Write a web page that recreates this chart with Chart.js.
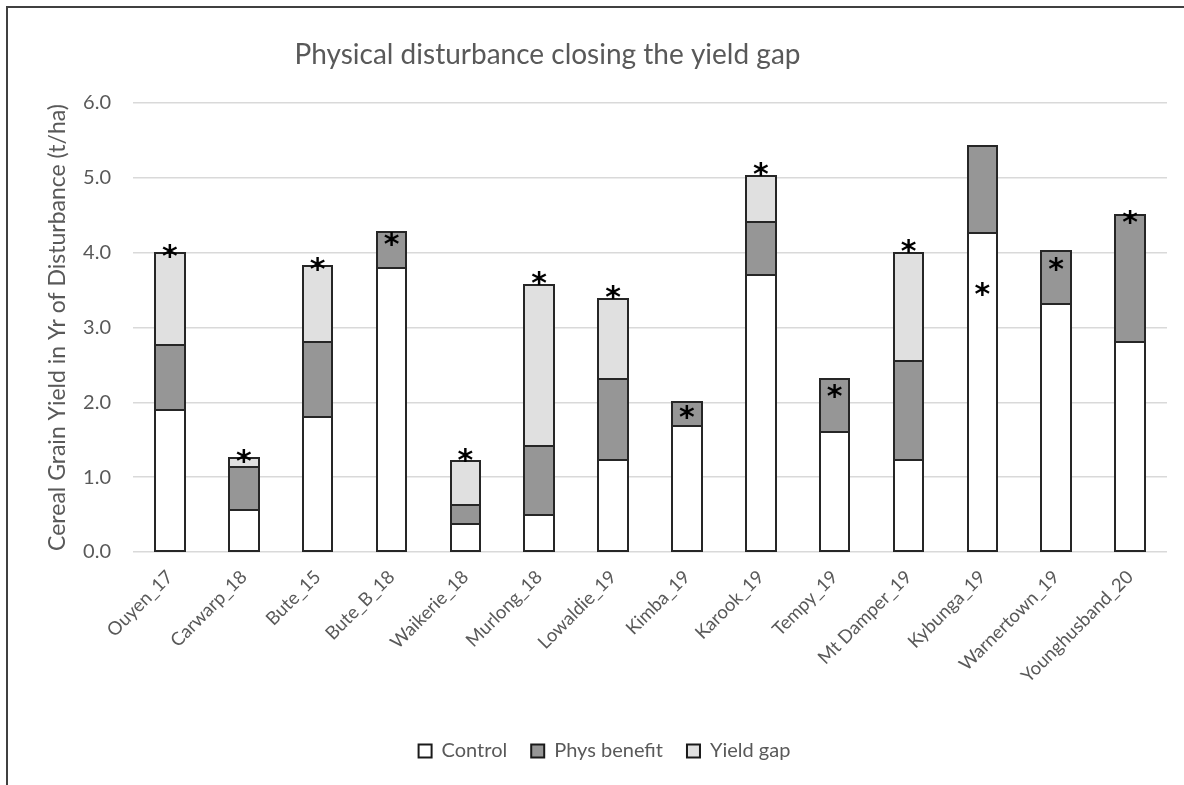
<!DOCTYPE html>
<html>
<head>
<meta charset="utf-8">
<script src="https://cdn.jsdelivr.net/npm/chart.js@4.4.1/dist/chart.umd.min.js"></script>
<style>
  html, body { margin: 0; padding: 0; background: #ffffff; }
  #wrap { position: relative; width: 1184px; height: 785px; }
</style>
</head>
<body>
<div id="wrap"><canvas id="chart" width="1184" height="785"></canvas></div>
<script>
// Trial sites
const categories = [
  'Ouyen_17', 'Carwarp_18', 'Bute_15', 'Bute_B_18', 'Waikerie_18', 'Murlong_18',
  'Lowaldie_19', 'Kimba_19', 'Karook_19', 'Tempy_19', 'Mt Damper_19', 'Kybunga_19',
  'Warnertown_19', 'Younghusband_20'
];

// Grain yield components (t/ha), stacked
const controlYield = [1.90, 0.56, 1.80, 3.80, 0.37, 0.50, 1.23, 1.69, 3.70, 1.61, 1.23, 4.26, 3.31, 2.80];
const physBenefit  = [0.87, 0.58, 1.00, 0.47, 0.26, 0.91, 1.08, 0.31, 0.71, 0.70, 1.32, 1.16, 0.71, 1.70];
const yieldGap     = [1.23, 0.12, 1.02, null, 0.58, 2.16, 1.07, null, 0.61, null, 1.45, null, null, null];

// Height (t/ha) at which each significance asterisk sits
const sigMarkY = [4.02, 1.27, 3.84, 4.17, 1.29, 3.66, 3.47, 1.86, 5.11, 2.14, 4.08, 3.51, 3.84, 4.47];

// Y axis tick values
const yTickValues = [0, 1, 2, 3, 4, 5, 6];

const TEXT = '#595959';
const FONT = 'Lato, "Open Sans", sans-serif';
const EDGE = '#262626';

// White background and frame lines along the top and left of the page
const framePlugin = {
  id: 'frame',
  beforeDraw(chart) {
    const ctx = chart.ctx;
    ctx.save();
    ctx.fillStyle = '#ffffff';
    ctx.fillRect(0, 0, chart.width, chart.height);
    ctx.restore();
  },
  afterDraw(chart) {
    const ctx = chart.ctx;
    ctx.save();
    ctx.strokeStyle = '#404040';
    ctx.lineWidth = 2;
    ctx.beginPath();
    ctx.moveTo(7, chart.height);
    ctx.lineTo(7, 7);
    ctx.lineTo(chart.width, 7);
    ctx.stroke();
    ctx.restore();
  }
};

// Nudge the title and legend boxes sideways after layout
const boxShiftPlugin = {
  id: 'boxShift',
  afterLayout(chart) {
    const shift = (box, dx) => {
      if (!box) return;
      box.left += dx;
      box.right += dx;
    };
    shift(chart.titleBlock, -36);
    shift(chart.legend, 21);
    if (chart.legend && chart.legend.legendHitBoxes) {
      chart.legend.legendHitBoxes.forEach(h => { h.left += 21; });
    }
  }
};

// Segment outlines centred on each bar edge, so stacked segments share one line
const outlinePlugin = {
  id: 'segmentOutline',
  afterDatasetsDraw(chart) {
    const ctx = chart.ctx;
    ctx.save();
    ctx.strokeStyle = EDGE;
    ctx.lineWidth = 2;
    chart.data.datasets.forEach((ds, di) => {
      const meta = chart.getDatasetMeta(di);
      meta.data.forEach((bar, i) => {
        if (ds.data[i] == null) return;
        const p = bar.getProps(['x', 'y', 'base', 'width'], true);
        const left = Math.round(p.x - p.width / 2);
        const right = Math.round(p.x + p.width / 2);
        const top = Math.round(Math.min(p.y, p.base));
        const bottom = Math.round(Math.max(p.y, p.base));
        ctx.strokeRect(left, top, right - left, bottom - top);
      });
    });
    ctx.restore();
  }
};

// Significance asterisks placed through the chart scales
const sigPlugin = {
  id: 'sigMarks',
  afterDatasetsDraw(chart) {
    const ctx = chart.ctx;
    const xs = chart.scales.x;
    const ys = chart.scales.y;
    ctx.save();
    ctx.fillStyle = '#000000';
    ctx.font = 'bold 30px "DejaVu Sans", sans-serif';
    ctx.textAlign = 'center';
    ctx.textBaseline = 'alphabetic';
    const m = ctx.measureText('*');
    const shift = (m.actualBoundingBoxAscent - m.actualBoundingBoxDescent) / 2;
    sigMarkY.forEach((v, i) => {
      if (v == null) return;
      const x = xs.getPixelForValue(i);
      const y = ys.getPixelForValue(v);
      ctx.fillText('*', x, y + shift);
    });
    ctx.restore();
  }
};

const barCommon = {
  borderWidth: 0,
  barPercentage: 0.4,
  categoryPercentage: 1.0
};

new Chart(document.getElementById('chart'), {
  type: 'bar',
  data: {
    labels: categories,
    datasets: [
      Object.assign({ label: 'Control', data: controlYield, backgroundColor: '#ffffff' }, barCommon),
      Object.assign({ label: 'Phys benefit', data: physBenefit, backgroundColor: '#969696' }, barCommon),
      Object.assign({ label: 'Yield gap', data: yieldGap, backgroundColor: '#e0e0e0' }, barCommon)
    ]
  },
  options: {
    responsive: false,
    animation: false,
    devicePixelRatio: 1,
    layout: { padding: { left: 0, right: 17, top: 0, bottom: 14 } },
    plugins: {
      title: {
        display: true,
        text: 'Physical disturbance closing the yield gap',
        color: TEXT,
        font: { family: FONT, size: 28, weight: 'normal' },
        padding: { top: 38, bottom: 31.4 }
      },
      legend: {
        display: true,
        position: 'bottom',
        labels: {
          color: TEXT,
          font: { family: FONT, size: 20 },
          boxWidth: 13,
          boxHeight: 13,
          padding: 24,
          useBorderRadius: false,
          generateLabels(chart) {
            return chart.data.datasets.map((ds, i) => ({
              text: ds.label,
              fillStyle: ds.backgroundColor,
              strokeStyle: '#1a1a1a',
              lineWidth: 2,
              fontColor: TEXT,
              hidden: false,
              datasetIndex: i
            }));
          }
        }
      },
      tooltip: { enabled: false }
    },
    scales: {
      x: {
        stacked: true,
        grid: { display: false },
        border: { display: false },
        ticks: {
          color: TEXT,
          font: { family: FONT, size: 18.5 },
          minRotation: 45,
          maxRotation: 45,
          padding: 6,
          autoSkip: false
        },
        afterFit(scale) { scale.height = 165; }
      },
      y: {
        stacked: true,
        min: 0,
        max: 6,
        afterBuildTicks(scale) {
          scale.ticks = yTickValues.map(v => ({ value: v }));
        },
        grid: { color: '#d9d9d9', lineWidth: 1.5, drawTicks: false },
        border: { display: false },
        ticks: {
          color: TEXT,
          font: { family: FONT, size: 20 },
          padding: 22,
          callback: v => Number(v).toFixed(1)
        },
        title: {
          display: true,
          text: 'Cereal Grain Yield in Yr of Disturbance (t/ha)',
          color: TEXT,
          font: { family: FONT, size: 23 },
          padding: { top: 44, bottom: 0 }
        },
        afterFit(scale) { scale.width = 133; }
      }
    }
  },
  plugins: [framePlugin, boxShiftPlugin, outlinePlugin, sigPlugin]
});
</script>
</body>
</html>
